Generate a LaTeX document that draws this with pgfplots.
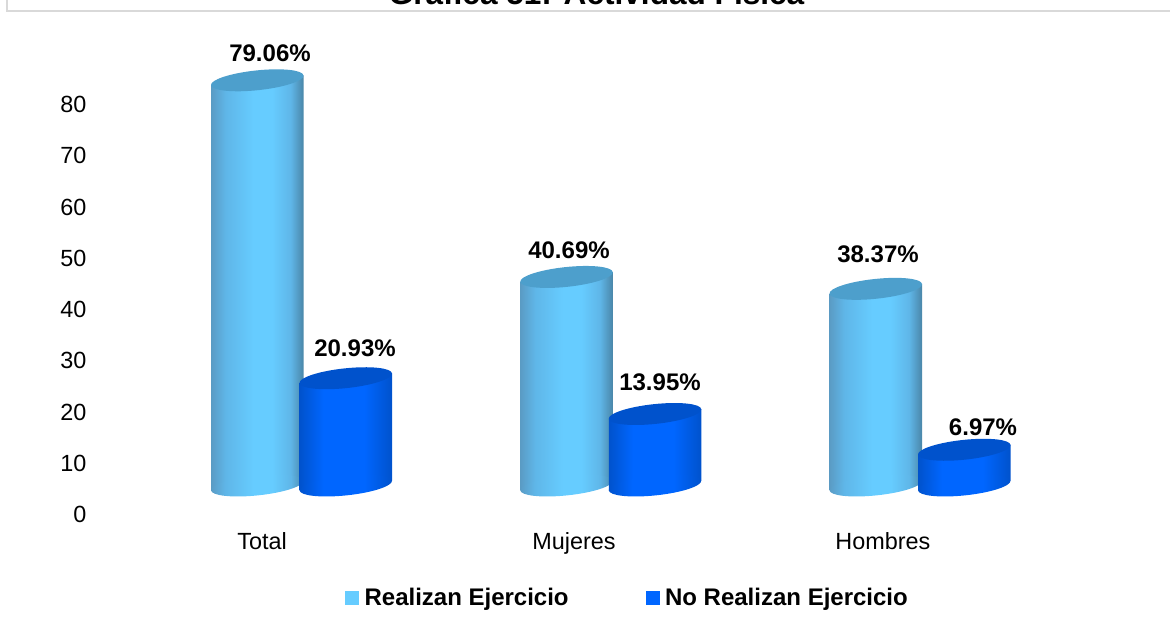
\documentclass[border=0pt]{standalone}
\usepackage{pgfplots}
\pgfplotsset{compat=1.18}
\usepackage{pgfplotstable}
\usepackage{fontspec}
\setmainfont{Liberation Sans}

\definecolor{claro}{HTML}{66CCFF}
\definecolor{oscuro}{HTML}{0066FF}
\definecolor{claroTapa}{HTML}{4D9FCC}
\definecolor{oscuroTapa}{HTML}{0052CC}
\definecolor{claroIzq}{HTML}{5A9BC4}
\definecolor{claroMedio}{HTML}{5FB6E8}
\definecolor{claroDer}{HTML}{4A86A8}

% Side shading of the cylinders, light in the middle, darker towards the edges
\pgfdeclarehorizontalshading{cuerpoClaro}{100bp}{
  color(0bp)=(claroIzq);
  color(25bp)=(claroIzq);
  color(33bp)=(claroMedio);
  color(48bp)=(claro);
  color(58bp)=(claro);
  color(68bp)=(claroMedio);
  color(75bp)=(claroDer);
  color(100bp)=(claroDer)}
\pgfdeclarehorizontalshading{cuerpoOscuro}{100bp}{
  color(0bp)=(oscuroTapa);
  color(25bp)=(oscuroTapa);
  color(38bp)=(oscuro);
  color(60bp)=(oscuro);
  color(75bp)=(oscuroTapa);
  color(100bp)=(oscuroTapa)}

% Cylinder plot mark: its origin is the group's position at the height of the
% plotted value, and its height is taken from that value, held in \val.
% #2 is the horizontal offset of the cylinder within the group.
\newcommand\marcaCilindro[4]{%
  \pgfdeclareplotmark{#1}{%
    \pgfmathsetmacro\alto{\val*5.125}%
    \pgfmathsetlengthmacro\xa{#2-46.25pt}%
    \pgfmathsetlengthmacro\xb{#2+46.25pt}%
    \pgfmathsetlengthmacro\ya{-\alto*1pt-4.86pt}%
    \pgfmathsetlengthmacro\yb{-\alto*1pt+4.86pt}%
    \pgfmathsetlengthmacro\yc{-\alto*1pt}%
    % side of the cylinder
    \pgfpathmoveto{\pgfpoint{\xa}{-4.86pt}}%
    \pgfpathlineto{\pgfpoint{\xa}{\ya}}%
    \pgfpathlineto{\pgfpoint{\xb}{\yb}}%
    \pgfpathlineto{\pgfpoint{\xb}{4.86pt}}%
    \pgfpathclose
    \pgfshadepath{#3}{0}%
    \pgfusepath{discard}%
    % rounded base
    \pgfpathellipse{\pgfpoint{#2}{\yc}}{\pgfpoint{46.25pt}{4.86pt}}{\pgfpoint{-1.03pt}{9.85pt}}%
    \pgfshadepath{#3}{0}%
    \pgfusepath{discard}%
    % top face
    \pgfsetfillcolor{#4}%
    \pgfpathellipse{\pgfpoint{#2}{0pt}}{\pgfpoint{46.25pt}{4.86pt}}{\pgfpoint{-1.03pt}{9.85pt}}%
    \pgfusepath{fill}}}
\marcaCilindro{cilClaro}{-44.25pt}{cuerpoClaro}{claroTapa}
\marcaCilindro{cilOscuro}{44.25pt}{cuerpoOscuro}{oscuroTapa}

\pgfplotstableread{
x v dx dy
0 79.06 -31.5 27.3
1 40.69 -41.75 27
2 38.37 -42 34.9
}\realizan
\pgfplotstableread{
x v dx dy
0 20.93 53.5 30.2
1 13.95 49.25 32
2 6.97 63 22.8
}\noRealizan

\pgfplotsset{
  cilindros/.style={
    scatter, only marks, mark=#1,
    scatter/@pre marker code/.code={},
    scatter/@post marker code/.code={},
    visualization depends on={\thisrow{v} \as \val},
    visualization depends on={\thisrow{dx} \as \dx},
    visualization depends on={\thisrow{dy} \as \dy},
    nodes near coords={\pgfmathprintnumber[fixed,fixed zerofill,precision=2]{\val}\%},
    every node near coord/.append style={
      anchor=center, inner sep=0pt, text=black,
      font=\fontsize{24}{28}\selectfont\bfseries,
      xshift=\dx pt, yshift=\dy pt},
  },
}

\begin{document}
\begin{tikzpicture}
  \path[use as bounding box, clip] (0,0) rectangle (1170pt,627pt);
  \draw[color=black!15, line width=2pt] (7pt,627pt) -- (7pt,616pt) -- (1170pt,616pt);
  \begin{axis}[
    at={(0,0)}, anchor=south west,
    scale only axis, width=1170pt, height=627pt,
    xmin=-0.97494, xmax=2.80841,
    ymin=-27.61, ymax=94.73,
    clip=false,
    axis line style={draw=none},
    tick style={draw=none},
    tick label style={font=\fontsize{23.4}{28}\selectfont},
    /pgf/number format/assume math mode=true,
    ytick={0,10,...,80},
    yticklabel style={anchor=east, xshift=90pt, yshift=-29pt},
    xtick={-0.1277,0.881,1.880},
    xticklabels={Total,Mujeres,Hombres},
    xticklabel style={anchor=base, yshift=78pt},
    legend columns=2,
    legend style={
      at={(345/1170,1-597.5/627)}, anchor=west,
      draw=none, fill=none, inner sep=0pt,
      font=\fontsize{24}{28}\selectfont\bfseries,
      /tikz/every even column/.append style={column sep=75pt},
      /tikz/every odd column/.append style={column sep=4pt},
    },
  ]
    \addplot[cilindros=cilClaro,
      legend image code/.code={\fill[claro] (0pt,-6.5pt) rectangle (13pt,6.5pt);}]
      table[x=x,y=v] {\realizan};
    \addlegendentry{Realizan Ejercicio}
    \addplot[cilindros=cilOscuro,
      legend image code/.code={\fill[oscuro] (0pt,-6.5pt) rectangle (13pt,6.5pt);}]
      table[x=x,y=v] {\noRealizan};
    \addlegendentry{No Realizan Ejercicio}
  \end{axis}
  \node[anchor=base, inner sep=0pt, font=\fontsize{31.6}{36}\selectfont\bfseries]
    at (596.5pt,622pt) {Gráfica 51: Actividad Física};
\end{tikzpicture}
\end{document}
